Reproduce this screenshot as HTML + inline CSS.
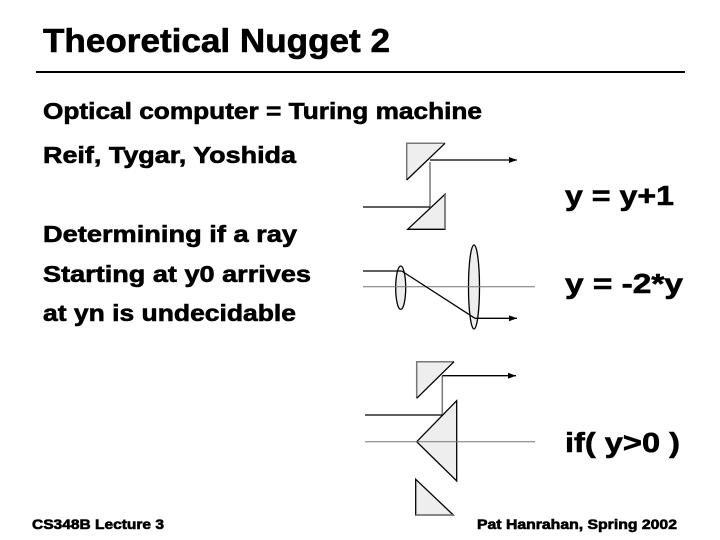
<!DOCTYPE html>
<html><head><meta charset="utf-8"><style>
html,body{margin:0;padding:0;background:#fff;}
svg{display:block;}
text{font-family:"Liberation Sans",sans-serif;font-weight:bold;fill:#000;stroke:#000;stroke-width:0.6;}
</style></head><body>
<svg width="720" height="540" viewBox="0 0 720 540" xmlns="http://www.w3.org/2000/svg">
<defs><marker id="a" markerWidth="8" markerHeight="6" refX="8" refY="3" orient="auto" markerUnits="userSpaceOnUse"><path d="M0,0 L8,3 L0,6 Z" fill="#000"/></marker></defs>
<text x="43" y="52" font-size="33" stroke-width="1" textLength="347" lengthAdjust="spacingAndGlyphs">Theoretical Nugget 2</text>
<line x1="36" y1="72" x2="685" y2="72" stroke="#000" stroke-width="2"/>
<g font-size="23">
<text x="43" y="119" textLength="439" lengthAdjust="spacingAndGlyphs">Optical computer = Turing machine</text>
<text x="43" y="163" textLength="253" lengthAdjust="spacingAndGlyphs">Reif, Tygar, Yoshida</text>
<text x="43" y="242" textLength="254" lengthAdjust="spacingAndGlyphs">Determining if a ray</text>
<text x="43" y="282" textLength="268" lengthAdjust="spacingAndGlyphs">Starting at y0 arrives</text>
<text x="43" y="321" textLength="253" lengthAdjust="spacingAndGlyphs">at yn is undecidable</text>
</g>
<g font-size="28" stroke-width="0.8">
<text x="565" y="205" textLength="109" lengthAdjust="spacingAndGlyphs">y = y+1</text>
<text x="565" y="293" textLength="118" lengthAdjust="spacingAndGlyphs">y = -2*y</text>
<text x="565" y="452" textLength="115" lengthAdjust="spacingAndGlyphs">if( y&gt;0 )</text>
</g>
<text x="32" y="529" font-size="14" stroke-width="0.4" textLength="132" lengthAdjust="spacingAndGlyphs">CS348B Lecture 3</text>
<text x="477" y="529" font-size="14" stroke-width="0.4" textLength="200" lengthAdjust="spacingAndGlyphs">Pat Hanrahan, Spring 2002</text>

<!-- diagram 1 -->
<path d="M445,143.3 L406.7,143.3 L406.7,180" fill="#eee" stroke="#777" stroke-width="1.5"/>
<path d="M445,143.3 L406.7,180" fill="none" stroke="#000" stroke-width="1.3"/>
<line x1="430" y1="162" x2="430" y2="207" stroke="#777" stroke-width="1.5"/>
<path d="M407.7,229.3 L445,194.3 L445,229.3 Z" fill="#eee" stroke="#000" stroke-width="1.3"/>
<line x1="445" y1="194.3" x2="445" y2="229.3" stroke="#777" stroke-width="1.5"/>
<line x1="363" y1="207" x2="430" y2="207" stroke="#000" stroke-width="1.3"/>
<line x1="430" y1="160" x2="517" y2="160" stroke="#000" stroke-width="1.3" marker-end="url(#a)"/>

<!-- diagram 2 -->
<ellipse cx="400.7" cy="287.7" rx="5" ry="21.7" fill="#eee" stroke="#000" stroke-width="1.3"/>
<ellipse cx="474" cy="287" rx="5.5" ry="42" fill="#eee" stroke="#000" stroke-width="1.3"/>
<line x1="363" y1="286.7" x2="535" y2="286.7" stroke="#777" stroke-width="1"/>
<line x1="363" y1="271" x2="401.7" y2="271" stroke="#000" stroke-width="1.3"/>
<line x1="401.7" y1="271" x2="475" y2="318.3" stroke="#000" stroke-width="1.3"/>
<line x1="475" y1="318.3" x2="517" y2="318.3" stroke="#000" stroke-width="1.3" marker-end="url(#a)"/>

<!-- diagram 3 -->
<path d="M454,361.7 L416.7,361.7 L416.7,398.3" fill="#eee" stroke="#777" stroke-width="1.5"/>
<path d="M454,361.7 L416.7,398.3" fill="none" stroke="#000" stroke-width="1.3"/>
<line x1="442.3" y1="375.7" x2="442.3" y2="415" stroke="#777" stroke-width="1.5"/>
<line x1="442.3" y1="375.7" x2="516" y2="375.7" stroke="#000" stroke-width="1.3" marker-end="url(#a)"/>
<path d="M456.7,400.7 L416.7,441.7 L456.7,481 Z" fill="#eee" stroke="#000" stroke-width="1.3"/>
<line x1="365" y1="441.7" x2="535" y2="441.7" stroke="#777" stroke-width="1"/>
<line x1="365" y1="415" x2="442.3" y2="415" stroke="#000" stroke-width="1.3"/>
<path d="M415.7,479.3 L453.3,515 L415.7,515 Z" fill="#eee" stroke="#000" stroke-width="1.3"/>
<line x1="415.7" y1="515" x2="453.3" y2="515" stroke="#777" stroke-width="1.5"/>
</svg>
</body></html>
